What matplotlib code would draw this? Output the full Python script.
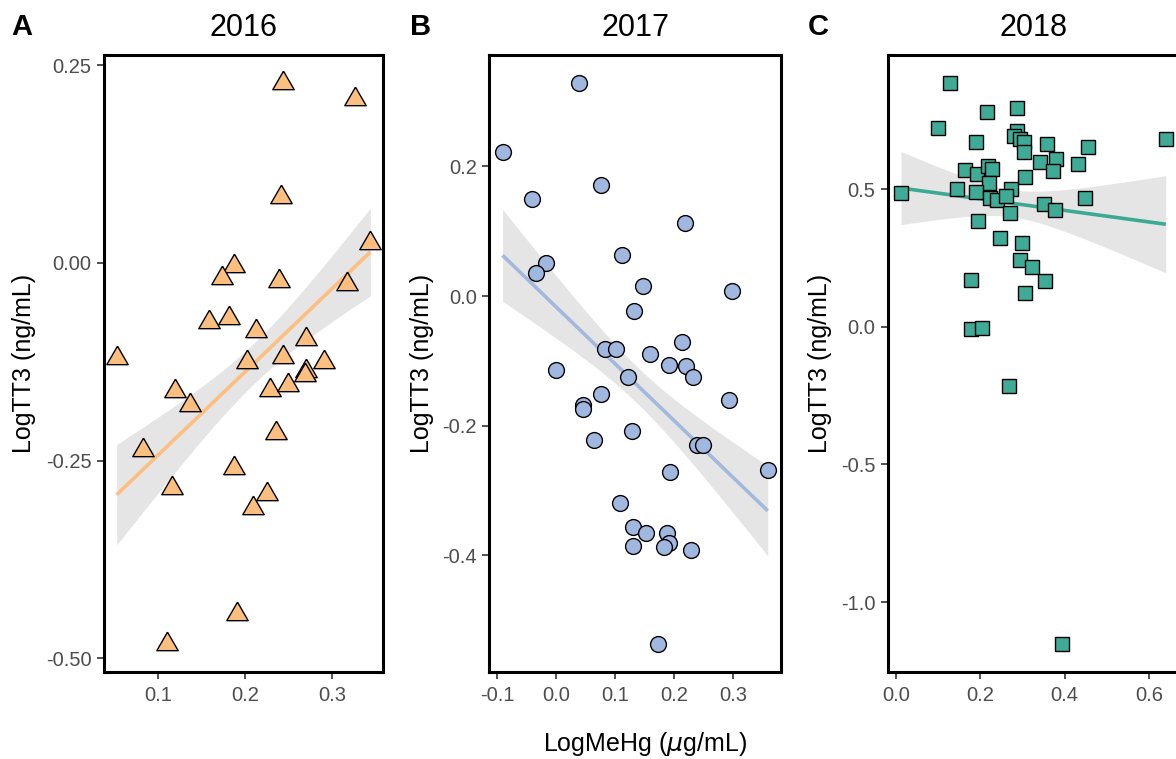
import numpy as np
import matplotlib
matplotlib.use("Agg")
import matplotlib.pyplot as plt

plt.rcParams['font.family'] = ['Liberation Sans', 'DejaVu Sans']

# ---------------- data ----------------
years = ["2016", "2017", "2018"]
panel_letters = ["A", "B", "C"]

x2016 = [0.2434, 0.3257, 0.2408, 0.3435, 0.1875, 0.1733, 0.2388, 0.3166, 0.1581, 0.1819,
         0.2123, 0.2695, 0.0528, 0.2016, 0.2431, 0.2903, 0.2695, 0.2688, 0.2280, 0.2487,
         0.1199, 0.1369, 0.2356, 0.0827, 0.1875, 0.1166, 0.2254, 0.2091, 0.1903, 0.1102]
y2016 = [0.2275, 0.2073, 0.0828, 0.0253, -0.0040, -0.0188, -0.0230, -0.0264, -0.0752, -0.0701,
         -0.0860, -0.0966, -0.1201, -0.1248, -0.1188, -0.1248, -0.1370, -0.1424, -0.1613, -0.1550,
         -0.1622, -0.1802, -0.2147, -0.2366, -0.2593, -0.2845, -0.2928, -0.3101, -0.4442, -0.4820]

x2017 = [0.0376, -0.0914, 0.0753, -0.0409, 0.2184, 0.1106, -0.0173, -0.0354, 0.1470, 0.2985,
         0.1310, 0.2133, 0.0825, 0.1010, 0.1594, 0.1908, 0.2201, 0.0000, 0.1212, 0.2312,
         0.0758, 0.0455, 0.0455, 0.2921, 0.1275, 0.0645, 0.2379, 0.2480, 0.1931, 0.3586,
         0.1077, 0.1302, 0.1527, 0.1880, 0.1902, 0.1824, 0.1302, 0.2284, 0.1723]
y2017 = [0.3288, 0.2220, 0.1718, 0.1492, 0.1128, 0.0631, 0.0518, 0.0363, 0.0158, 0.0082,
         -0.0231, -0.0712, -0.0815, -0.0815, -0.0892, -0.1062, -0.1085, -0.1138, -0.1246, -0.1254,
         -0.1515, -0.1677, -0.1746, -0.1600, -0.2077, -0.2215, -0.2292, -0.2292, -0.2719, -0.2677,
         -0.3189, -0.3558, -0.3662, -0.3662, -0.3815, -0.3866, -0.3857, -0.3923, -0.5369]

x2018 = [0.1272, 0.2860, 0.2157, 0.0999, 0.2866, 0.2796, 0.2938, 0.3032, 0.3032, 0.6396,
         0.1901, 0.3586, 0.4546, 0.3789, 0.3419, 0.4312, 0.3721, 0.1644, 0.1912, 0.2176,
         0.2282, 0.3055, 0.2194, 0.1453, 0.0118, 0.2725, 0.1901, 0.2219, 0.2396, 0.2608,
         0.4470, 0.3521, 0.3759, 0.2709, 0.1955, 0.2456, 0.2990, 0.2938, 0.3220, 0.3526,
         0.1781, 0.3048, 0.1781, 0.2028, 0.2670, 0.3942]
y2018 = [0.8848, 0.7944, 0.7811, 0.7207, 0.7103, 0.6925, 0.6834, 0.6690, 0.6328, 0.6821,
         0.6713, 0.6641, 0.6510, 0.6096, 0.5974, 0.5908, 0.5648, 0.5673, 0.5553, 0.5818,
         0.5710, 0.5446, 0.5214, 0.5011, 0.4859, 0.5004, 0.4877, 0.4667, 0.4613, 0.4750,
         0.4667, 0.4468, 0.4225, 0.4142, 0.3852, 0.3222, 0.3021, 0.2426, 0.2173, 0.1665,
         0.1701, 0.1209, -0.0094, -0.0058, -0.2172, -1.1522]

xticks_list = [[0.1, 0.2, 0.3], [-0.1, 0.0, 0.1, 0.2, 0.3], [0.0, 0.2, 0.4, 0.6]]
xticklabels_list = [["0.1", "0.2", "0.3"], ["-0.1", "0.0", "0.1", "0.2", "0.3"],
                    ["0.0", "0.2", "0.4", "0.6"]]
yticks_list = [[0.25, 0.0, -0.25, -0.5], [0.2, 0.0, -0.2, -0.4], [0.5, 0.0, -0.5, -1.0]]
yticklabels_list = [["0.25", "0.00", "-0.25", "-0.50"], ["0.2", "0.0", "-0.2", "-0.4"],
                    ["0.5", "0.0", "-0.5", "-1.0"]]

ylabel = "LogTT3 (ng/mL)"
xlabel = r"LogMeHg ($\mu$g/mL)"

fill_colors = ["#FDBF80", "#A0B8E0", "#3FAA95"]
line_colors = ["#FDBF80", "#A2B9DE", "#3AAA94"]

tri = [(0, 1), (-0.866, -0.5), (0.866, -0.5), (0, 1)]
markers = [tri, "o", "s"]
msizes = [17.8, 11.4, 10.4]

# ---------------- helpers ----------------
def lm_fit(x, y, mult=1.0, n=80):
    """OLS line with a band of +/- mult standard errors of the fitted mean."""
    x = np.asarray(x); y = np.asarray(y)
    N = len(x)
    b, a = np.polyfit(x, y, 1)
    resid = y - (a + b*x)
    s = np.sqrt(np.sum(resid**2) / (N - 2))
    xm = x.mean(); sxx = np.sum((x - xm)**2)
    xs = np.linspace(x.min(), x.max(), n)
    ys = a + b*xs
    se = s * np.sqrt(1.0/N + (xs - xm)**2 / sxx)
    return xs, ys, ys - mult*se, ys + mult*se

def padded(v, f=0.05):
    lo, hi = min(v), max(v)
    r = hi - lo
    return lo - f*r, hi + f*r

# ---------------- figure ----------------
W, H = 1176, 759
fig = plt.figure(figsize=(W/100, H/100), dpi=100)

ax_px = [(104, 383), (489.3, 781), (887.7, 1179)]
top_px, bot_px = 55, 672

data = [(x2016, y2016), (x2017, y2017), (x2018, y2018)]
ylab_x = [24, 422, 820]
letter_x = [11, 410, 808]

for i, (xs_d, ys_d) in enumerate(data):
    l, r = ax_px[i]
    ax = fig.add_axes([l/W, (H-bot_px)/H, (r-l)/W, (bot_px-top_px)/H])
    xf, yf, lo, hi = lm_fit(xs_d, ys_d)
    ax.fill_between(xf, lo, hi, color="#999999", alpha=0.25, linewidth=0, zorder=1)
    ax.plot(xf, yf, color=line_colors[i], lw=2.6, solid_capstyle='butt', zorder=2)
    ax.plot(xs_d, ys_d, linestyle='none', marker=markers[i], markersize=msizes[i],
            markerfacecolor=fill_colors[i], markeredgecolor="black", markeredgewidth=1.0,
            zorder=3)
    ax.set_xlim(*padded(xs_d))
    ax.set_ylim(*padded(ys_d))
    ax.set_xticks(xticks_list[i])
    ax.set_xticklabels(xticklabels_list[i])
    ax.set_yticks(yticks_list[i])
    ax.set_yticklabels(yticklabels_list[i])
    ax.tick_params(axis='both', labelsize=14.5, labelcolor="#4D4D4D", color="#333333",
                   length=5, width=1.2, direction='out')
    ax.tick_params(axis='x', pad=5)
    ax.tick_params(axis='y', pad=4)
    for sp in ax.spines.values():
        sp.set_linewidth(2.2)
        sp.set_color("black")
    ax.set_title(years[i], fontsize=22, pad=14)
    fig.text(ylab_x[i]/W, 1 - ((top_px+bot_px)/2)/H, ylabel, rotation=90,
             ha='center', va='center', fontsize=18)
    fig.text(letter_x[i]/W, 1 - 35/H, panel_letters[i], fontsize=21, fontweight='bold',
             ha='left', va='baseline')

fig.text(645/W, 8.5/H, xlabel, ha='center', va='baseline', fontsize=18)

fig.savefig("out.png", dpi=100)
